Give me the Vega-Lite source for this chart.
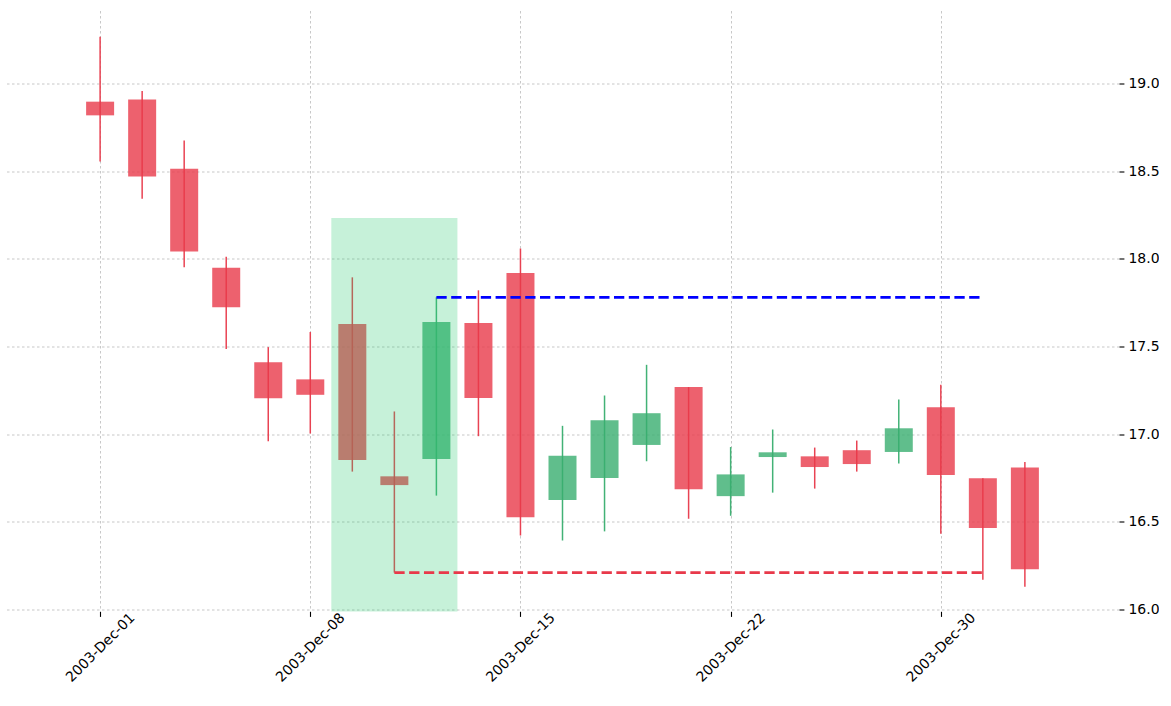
{
  "$schema": "https://vega.github.io/schema/vega-lite/v6.json",
  "width": 1113,
  "height": 601,
  "padding": {"left": 6, "top": 10.5, "right": 40, "bottom": 80},
  "autosize": {"type": "none"},
  "background": "white",
  "view": {"stroke": null},
  "config": {
    "font": "DejaVu Sans",
    "axis": {
      "labelFont": "DejaVu Sans",
      "labelFontSize": 14,
      "labelColor": "black",
      "tickColor": "black",
      "tickSize": 4.9,
      "tickWidth": 1.1,
      "domain": false,
      "grid": true,
      "gridColor": "#b0b0b0",
      "gridDash": [2.5, 2.5],
      "gridWidth": 0.7,
      "title": null
    }
  },
  "datasets": {
    "candles": [
      {"day": 0, "date": "2003-Dec-01", "open": 18.897, "high": 19.267, "low": 18.556, "close": 18.819},
      {"day": 1, "date": "2003-Dec-02", "open": 18.909, "high": 18.958, "low": 18.343, "close": 18.47},
      {"day": 2, "date": "2003-Dec-03", "open": 18.514, "high": 18.676, "low": 17.952, "close": 18.042},
      {"day": 3, "date": "2003-Dec-04", "open": 17.949, "high": 18.013, "low": 17.486, "close": 17.724},
      {"day": 4, "date": "2003-Dec-05", "open": 17.411, "high": 17.497, "low": 16.96, "close": 17.206},
      {"day": 5, "date": "2003-Dec-08", "open": 17.313, "high": 17.583, "low": 17.004, "close": 17.225},
      {"day": 6, "date": "2003-Dec-09", "open": 17.629, "high": 17.895, "low": 16.787, "close": 16.853},
      {"day": 7, "date": "2003-Dec-10", "open": 16.76, "high": 17.13, "low": 16.211, "close": 16.71},
      {"day": 8, "date": "2003-Dec-11", "open": 16.859, "high": 17.781, "low": 16.65, "close": 17.64},
      {"day": 9, "date": "2003-Dec-12", "open": 17.634, "high": 17.821, "low": 16.989, "close": 17.207},
      {"day": 10, "date": "2003-Dec-15", "open": 17.92, "high": 18.059, "low": 16.423, "close": 16.527},
      {"day": 11, "date": "2003-Dec-16", "open": 16.625, "high": 17.048, "low": 16.394, "close": 16.878},
      {"day": 12, "date": "2003-Dec-17", "open": 16.75, "high": 17.221, "low": 16.446, "close": 17.08},
      {"day": 13, "date": "2003-Dec-18", "open": 16.939, "high": 17.396, "low": 16.846, "close": 17.12},
      {"day": 14, "date": "2003-Dec-19", "open": 17.269, "high": 17.269, "low": 16.518, "close": 16.687},
      {"day": 15, "date": "2003-Dec-22", "open": 16.647, "high": 16.927, "low": 16.535, "close": 16.771},
      {"day": 16, "date": "2003-Dec-23", "open": 16.87, "high": 17.027, "low": 16.667, "close": 16.897},
      {"day": 17, "date": "2003-Dec-24", "open": 16.874, "high": 16.924, "low": 16.69, "close": 16.813},
      {"day": 18, "date": "2003-Dec-26", "open": 16.909, "high": 16.964, "low": 16.787, "close": 16.83},
      {"day": 19, "date": "2003-Dec-29", "open": 16.899, "high": 17.198, "low": 16.833, "close": 17.034},
      {"day": 20, "date": "2003-Dec-30", "open": 17.154, "high": 17.282, "low": 16.433, "close": 16.767},
      {"day": 21, "date": "2003-Dec-31", "open": 16.749, "high": 16.749, "low": 16.17, "close": 16.465},
      {"day": 22, "date": "2004-Jan-02", "open": 16.811, "high": 16.842, "low": 16.13, "close": 16.23}
    ],
    "zone": [
      {"start": 5.5, "end": 8.5, "low": 15.985, "high": 18.234}
    ],
    "levels": [
      {"start": 7, "end": 21, "level": 16.211, "kind": "support"},
      {"start": 8, "end": 21, "level": 17.781, "kind": "resistance"}
    ]
  },
  "layer": [
    {
      "data": {"name": "candles"},
      "mark": {"type": "rule", "strokeWidth": 1.5, "opacity": 0.95},
      "encoding": {
        "x": {
          "field": "day",
          "type": "quantitative",
          "scale": {"domain": [-2.12, 24.12], "nice": false, "zero": false},
          "axis": {
            "orient": "bottom",
            "values": [0, 5, 10, 15, 20],
            "labelExpr": "datum.value == 0 ? '2003-Dec-01' : datum.value == 5 ? '2003-Dec-08' : datum.value == 10 ? '2003-Dec-15' : datum.value == 15 ? '2003-Dec-22' : '2003-Dec-30'",
            "labelAngle": -45,
            "labelAlign": "center",
            "labelBaseline": "middle",
            "labelPadding": 31
          }
        },
        "y": {
          "field": "low",
          "type": "quantitative",
          "scale": {"domain": [15.989, 19.417], "nice": false, "zero": false},
          "axis": {
            "orient": "right",
            "values": [16, 16.5, 17, 17.5, 18, 18.5, 19],
            "format": ".1f",
            "labelPadding": 4
          }
        },
        "y2": {"field": "high"},
        "color": {
          "condition": {"test": "datum.close >= datum.open", "value": "#38ae6f"},
          "value": "#e8394a"
        }
      }
    },
    {
      "data": {"name": "candles"},
      "mark": {"type": "bar", "size": 28, "opacity": 0.8},
      "encoding": {
        "x": {"field": "day", "type": "quantitative"},
        "y": {"field": "open", "type": "quantitative"},
        "y2": {"field": "close"},
        "color": {
          "condition": {"test": "datum.close >= datum.open", "value": "#38ae6f"},
          "value": "#e8394a"
        }
      }
    },
    {
      "data": {"name": "zone"},
      "mark": {"type": "rect", "color": "#2ecc71", "opacity": 0.27, "clip": true},
      "encoding": {
        "x": {"field": "start", "type": "quantitative"},
        "x2": {"field": "end"},
        "y": {"field": "low", "type": "quantitative"},
        "y2": {"field": "high"}
      }
    },
    {
      "data": {"name": "levels"},
      "mark": {"type": "rule", "strokeWidth": 2.8, "strokeDash": [10.3, 4.5]},
      "encoding": {
        "x": {"field": "start", "type": "quantitative"},
        "x2": {"field": "end"},
        "y": {"field": "level", "type": "quantitative"},
        "color": {
          "field": "kind",
          "type": "nominal",
          "scale": {"domain": ["support", "resistance"], "range": ["#e8394a", "#0000ff"]},
          "legend": null
        }
      }
    }
  ]
}
